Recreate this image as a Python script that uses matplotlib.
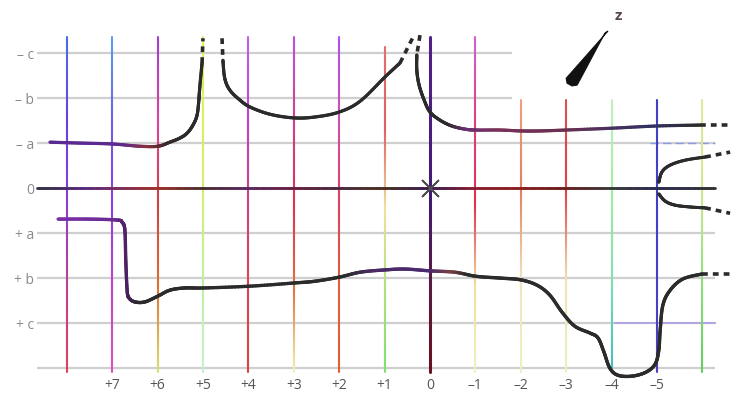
import numpy as np
import matplotlib
matplotlib.use("Agg")
import matplotlib.pyplot as plt
from matplotlib.collections import LineCollection
from matplotlib.colors import to_rgba
from matplotlib.patches import Polygon
from matplotlib.path import Path

# ---------------- data ----------------
x_positions = [8, 7, 6, 5, 4, 3, 2, 1, 0, -1, -2, -3, -4, -5, -6]
x_labels = ["", "+7", "+6", "+5", "+4", "+3", "+2", "+1", "0", "–1", "–2", "–3", "–4", "–5", ""]
y_levels = [-3, -2, -1, 0, 1, 2, 3, 4]
y_labels = ["– c", "– b", "– a", "0", "+ a", "+ b", "+ c", ""]

# left branch rising to the pole near +5
branch1_v = [8.37, 7.71, 7.00, 6.39, 5.99, 5.73, 5.51, 5.35, 5.22, 5.13, 5.09, 5.07, 5.02]
branch1_w = [-1.02, -1.00, -0.98, -0.93, -0.93, -1.02, -1.11, -1.22, -1.40, -1.62, -1.96, -2.24, -2.78]
branch1_dash_v = [5.02, 5.00]
branch1_dash_w = [-2.78, -3.33]

# U-shaped branch between +5 and 0
branch2_v = [4.56, 4.52, 4.41, 4.19, 3.96, 3.52, 3.00, 2.53, 2.00, 1.54, 0.99, 0.66]
branch2_w = [-2.84, -2.44, -2.18, -1.96, -1.80, -1.64, -1.56, -1.58, -1.69, -1.93, -2.47, -2.78]
branch2_dashL_v = [4.58, 4.56]
branch2_dashL_w = [-3.33, -2.84]
branch2_dashR_v = [0.66, 0.35]
branch2_dashR_w = [-2.78, -3.40]

# branch right of the pole at 0
branch3_v = [0.29, 0.29, 0.24, 0.13, 0.00, -0.22, -0.48, -0.77, -1.01, -1.54, -2.00, -2.42, -3.00, -3.99, -5.00, -5.95]
branch3_w = [-2.96, -2.62, -2.29, -1.96, -1.69, -1.51, -1.38, -1.31, -1.29, -1.29, -1.27, -1.27, -1.29, -1.33, -1.38, -1.40]
branch3_dashL_v = [0.22, 0.29]
branch3_dashL_w = [-3.40, -2.96]
branch3_dashR_v = [-5.95, -6.61]
branch3_dashR_w = [-1.40, -1.40]

# small branches splitting at -5
branch4_v = [-5.04, -5.11, -5.29, -5.62, -6.06]
branch4_w = [-0.13, -0.36, -0.51, -0.62, -0.69]
branch4_dash_v = [-6.06, -6.61]
branch4_dash_w = [-0.69, -0.80]
branch5_v = [-5.04, -5.18, -5.40, -5.73, -6.06]
branch5_w = [0.13, 0.29, 0.38, 0.42, 0.44]
branch5_dash_v = [-6.06, -6.61]
branch5_dash_w = [0.44, 0.56]

# lower curve
lower_v = [8.19, 7.49, 6.89, 6.78, 6.72, 6.70, 6.67, 6.63, 6.50, 6.28, 5.99, 5.73, 5.40, 4.98,
           3.96, 3.00, 2.53, 2.00, 1.54, 1.01, 0.55, 0.00, -0.55, -1.01, -1.54, -2.00, -2.36,
           -2.64, -2.91, -3.19, -3.52, -3.70, -3.83, -3.96, -4.14, -4.45, -4.76, -4.96, -5.04,
           -5.07, -5.13, -5.29, -5.57, -5.99]
lower_w = [0.69, 0.69, 0.71, 0.76, 0.93, 1.60, 2.27, 2.44, 2.53, 2.53, 2.40, 2.27, 2.22, 2.22,
           2.18, 2.11, 2.07, 1.98, 1.87, 1.82, 1.80, 1.84, 1.87, 1.96, 2.00, 2.04, 2.16,
           2.38, 2.76, 3.07, 3.22, 3.33, 3.64, 4.00, 4.16, 4.18, 4.09, 3.91, 3.60,
           3.16, 2.60, 2.27, 2.02, 1.91]
lower_dash_v = [-5.99, -6.61]
lower_dash_w = [1.91, 1.91]

# wedge marker near "z"
wedge_v = [-3.92, -3.85, -3.30, -3.24, -3.13, -3.02, -3.00]
wedge_w = [-3.49, -3.44, -2.40, -2.29, -2.27, -2.33, -2.44]

# ---------------- styles ----------------
DARK = "#2b2b2b"
vline_styles = {
    8: (-3.36, ["#4a70e0", "#6a40e0", "#8a40d0", "#c04090", "#e04060"]),
    7: (-3.36, ["#5aa0f0", "#6a60e8", "#8a40e0", "#c040d0", "#e050c0"]),
    6: (-3.36, ["#a040d0", "#e040a0", "#d04040", "#e07030", "#d8e070"]),
    5: (-3.36, ["#e4f060", "#d8f060", "#d0f070", "#c0f0a0", "#c8f0d0"]),
    4: (-3.36, ["#c060e8", "#c040d0", "#d04080", "#e04050", "#e04040"]),
    3: (-3.36, ["#c050e0", "#d04090", "#e03050", "#e07040", "#f0f0b0"]),
    2: (-3.36, ["#b050f0", "#d050b0", "#e04060", "#e06040", "#e06030"]),
    1: (-3.13, ["#e07070", "#e06060", "#f0e0a0", "#b0e080", "#80e070"]),
    0: (-3.36, ["#50208a", "#4a2080", "#401a70", "#5a1a40", "#6a1020"]),
    -1: (-3.36, ["#d060d0", "#e04080", "#e03050", "#f0e0a0", "#f0f0c0"]),
    -2: (-1.96, ["#f0a080", "#e08060", "#f0e4c0", "#eef0c0"]),
    -3: (-1.96, ["#e05050", "#e04040", "#f0e4b0", "#eef0c0"]),
    -4: (-1.96, ["#c0f0c0", "#a0f0a0", "#80e0b0", "#40c0c0"]),
    -5: (-1.96, ["#4040c0", "#4040c8", "#5040c0"]),
    -6: (-1.96, ["#e0e8a0", "#d0e890", "#90e080", "#60d060"]),
}


def add_segments(ax, pts, color_fn, lw, z):
    segs = [[pts[k], pts[k + 1]] for k in range(len(pts) - 1)]
    cols = [color_fn(k / max(len(segs) - 1, 1), 0.5 * (pts[k][0] + pts[k + 1][0])) for k in range(len(segs))]
    lc = LineCollection(segs, colors=cols, linewidths=lw, capstyle="round",
                        joinstyle="round", zorder=z)
    ax.add_collection(lc)


def straight(ax, xs, ys, color_fn, lw, n=120, z=2):
    # a straight stroke split into pieces only so the colour can vary along it
    t = np.linspace(0, 1, n + 1)
    pts = list(zip(xs[0] + (xs[1] - xs[0]) * t, ys[0] + (ys[1] - ys[0]) * t))
    add_segments(ax, pts, color_fn, lw, z)


def smooth(ax, xs, ys, color_fn, lw, z=3, steps=16):
    # Catmull-Rom path through the read points, rendered as cubic Bezier pieces
    P = np.column_stack([xs, ys]).astype(float)
    ext = np.vstack([P[0], P, P[-1]])
    verts, codes = [tuple(P[0])], [Path.MOVETO]
    for i in range(len(P) - 1):
        p0, p1, p2, p3 = ext[i], ext[i + 1], ext[i + 2], ext[i + 3]
        c1 = p1 + (p2 - p0) / 6.0
        c2 = p2 - (p3 - p1) / 6.0
        verts += [tuple(c1), tuple(c2), tuple(p2)]
        codes += [Path.CURVE4] * 3
    path = Path(verts, codes)
    pts = []
    for bez, code in path.iter_bezier():
        if code == Path.MOVETO:
            continue
        for t in np.linspace(0, 1, steps, endpoint=False):
            pts.append(tuple(bez.point_at_t(t)))
    pts.append(tuple(P[-1]))
    add_segments(ax, pts, color_fn, lw, z)


def stops_by_v(stops):
    vs = np.array([s[0] for s in stops])[::-1]
    cs = np.array([to_rgba(s[1]) for s in stops])[::-1]

    def fn(frac, v):
        return tuple(np.interp(v, vs, cs[:, j]) for j in range(4))
    return fn


def stops_along(colors):
    cs = np.array([to_rgba(c) for c in colors])
    fr = np.linspace(0, 1, len(cs))

    def fn(frac, v):
        return tuple(np.interp(frac, fr, cs[:, j]) for j in range(4))
    return fn


def solid(c):
    return lambda frac, v: c


fig = plt.figure(figsize=(7.36, 4.0), dpi=100)
ax = fig.add_axes([0, 0, 1, 1])
ax.set_xlim(9.47, -6.74)
ax.set_ylim(4.71, -4.18)
ax.axis("off")
fig.patch.set_facecolor("white")

# horizontal guide lines
for lvl in y_levels:
    if lvl == 0:
        continue
    right = -1.81 if lvl in (-3, -2) else -6.28
    ax.plot([8.66, right], [lvl, lvl], color="#cfcfcf", lw=1.6, zorder=1, solid_capstyle="butt")
ax.plot([-4.85, -6.28], [-1, -1], color="#8a9ae6", lw=1.0, ls=(0, (6, 3)), zorder=1.5)
ax.plot([-4.07, -6.28], [3, 3], color="#b4a4e4", lw=1.4, zorder=1.5)

# vertical coloured lines
for v in x_positions:
    top, cols = vline_styles[v]
    lw = 2.2 if v == 0 else 1.5
    straight(ax, [v, v], [top, 4.09], stops_along(cols), lw, z=2)

# zero axis line
zero_stops = [(8.66, "#303040"), (7.6, "#5a2a80"), (6.0, "#a03028"), (5.0, "#4a3030"),
              (4.0, "#5a2a60"), (3.0, "#6a2040"), (2.0, "#4a2a40"), (1.0, "#4a3020"),
              (0.0, "#3a1a50"), (-1.0, "#8a2030"), (-2.0, "#8a2020"), (-3.0, "#6a2020"),
              (-4.0, "#3a3a3a"), (-5.0, "#2a2a50"), (-6.28, "#333333")]
straight(ax, [8.66, -6.28], [0, 0], stops_by_v(zero_stops), 2.0, n=300, z=2.5)

dash_kw = dict(color=DARK, lw=2.6, ls=(0, (1.6, 1.4)), zorder=3, solid_capstyle="butt")

# curves
c1 = stops_by_v([(8.4, "#5a2a90"), (6.8, "#5a2a90"), (6.2, "#8a3040"), (5.8, "#3a2a2a"), (5.4, DARK), (4.0, DARK)])
smooth(ax, branch1_v, branch1_w, c1, 2.3)
ax.plot(branch1_dash_v, branch1_dash_w, **dash_kw)

smooth(ax, branch2_v, branch2_w, solid(DARK), 2.3)
ax.plot(branch2_dashL_v, branch2_dashL_w, **dash_kw)
ax.plot(branch2_dashR_v, branch2_dashR_w, **dash_kw)

c3 = stops_by_v([(0.5, DARK), (-0.4, DARK), (-0.8, "#6a3070"), (-1.6, "#7a3058"), (-3.0, "#6a3050"),
                 (-4.0, "#4a3060"), (-5.0, "#303060"), (-5.9, DARK)])
smooth(ax, branch3_v, branch3_w, c3, 2.3)
ax.plot(branch3_dashL_v, branch3_dashL_w, **dash_kw)
ax.plot(branch3_dashR_v, branch3_dashR_w, **dash_kw)

smooth(ax, branch4_v, branch4_w, solid(DARK), 2.2)
ax.plot(branch4_dash_v, branch4_dash_w, **dash_kw)
smooth(ax, branch5_v, branch5_w, solid(DARK), 2.2)
ax.plot(branch5_dash_v, branch5_dash_w, **dash_kw)

c6 = stops_by_v([(8.3, "#7a30a8"), (6.9, "#6a2a90"), (6.68, "#4a2060"), (6.4, DARK), (1.8, DARK),
                 (1.3, "#4a2a60"), (0.0, "#4a2a70"), (-0.5, "#7a4040"), (-0.8, DARK), (-6.0, DARK)])
smooth(ax, lower_v, lower_w, c6, 2.4)
ax.plot(lower_dash_v, lower_dash_w, **dash_kw)

# origin asterisk
ax.plot([0], [0], marker=(4, 2, 45), markersize=17, color="#505050", mew=1.3, zorder=4)

# wedge + z
ax.add_patch(Polygon(list(zip(wedge_v, wedge_w)), closed=True, facecolor="#111111",
                     edgecolor="#111111", lw=0.8, zorder=4))
ax.text(-4.14, -3.82, "z", fontsize=11, fontweight="bold", color="#5a4652",
        ha="center", va="center", family="Open Sans")

# labels
for v, lab in zip(x_positions, x_labels):
    if lab:
        ax.text(v, 4.38, lab, ha="center", va="center", fontsize=10, color="#555555",
                family="Open Sans")
for lvl, lab in zip(y_levels, y_labels):
    if lab:
        ax.text(8.72, lvl + 0.05, lab, ha="right", va="center", fontsize=10, color="#8a8a8a",
                family="Open Sans")

fig.savefig("out.png", dpi=100, facecolor="white")
